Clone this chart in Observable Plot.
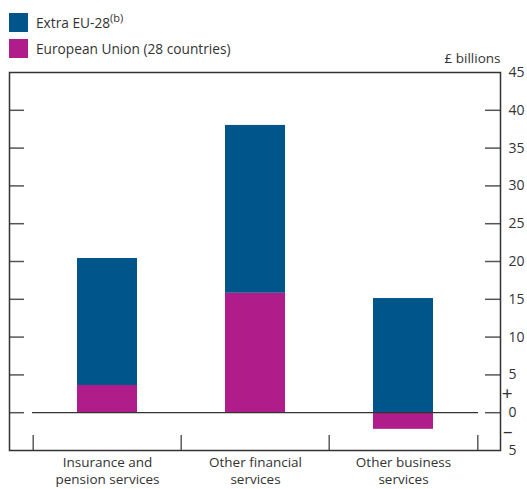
<!DOCTYPE html>
<html>
<head>
<meta charset="utf-8">
<script src="https://cdn.jsdelivr.net/npm/d3@7"></script>
<script src="https://cdn.jsdelivr.net/npm/@observablehq/plot@0.6"></script>
<style>
  html, body { margin: 0; padding: 0; background: #fff; }
  #wrap { position: relative; width: 527px; height: 489px; font-family: "Open Sans", sans-serif; color: #333; }
  #legend { position: absolute; left: 9px; top: 13px; font-size: 13.7px; }
  .item { display: flex; align-items: center; height: 19px; margin-bottom: 7px; }
  .sw { width: 19px; height: 19px; margin-right: 8px; }
  sup { font-size: 11px; vertical-align: 6px; line-height: 0; }
  #chart { position: absolute; left: 0; top: 0; }
</style>
</head>
<body>
<div id="wrap">
  <div id="chart"></div>
  <div id="legend"></div>
</div>
<script>
const categories = ["Insurance and pension services", "Other financial services", "Other business services"];
const categoryLabels = ["Insurance and\npension services", "Other financial\nservices", "Other business\nservices"];
const seriesNames = ["European Union (28 countries)", "Extra EU-28"];
const euValues = [3.6, 15.8, -2.2];
const extraValues = [16.8, 22.2, 15.1];
const colors = ["#B01D8A", "#00558B"];
const tickValues = [-5, 0, 5, 10, 15, 20, 25, 30, 35, 40, 45];
const innerTicks = [0, 5, 10, 15, 20, 25, 30, 35, 40];

const data = [];
categories.forEach((c, i) => {
  data.push({category: c, series: seriesNames[0], value: euValues[i]});
  data.push({category: c, series: seriesNames[1], value: extraValues[i]});
});

const W = 527, H = 489, mL = 9, mR = 27, mT = 72, mB = 39;
const xRange = [32, 478];
const step = (xRange[1] - xRange[0]) / categories.length;
const frameW = W - mL - mR;
const tickLen = 15;
const labelOf = Object.fromEntries(categories.map((c, i) => [c, categoryLabels[i]]));

const plot = Plot.plot({
  width: W, height: H,
  marginLeft: mL, marginRight: mR, marginTop: mT, marginBottom: mB,
  style: {fontFamily: "'Open Sans', sans-serif", fontSize: "13.5px", color: "#333", background: "transparent"},
  x: {type: "band", domain: categories, range: xRange, paddingInner: 0.596, paddingOuter: 0.298, axis: null},
  y: {domain: [-5, 45], axis: null},
  color: {domain: seriesNames, range: colors},
  marks: [
    Plot.barY(data, {x: "category", y: "value", fill: "series", z: "series"}),
    Plot.ruleY([0], {stroke: "#333", strokeWidth: 1.2, insetLeft: xRange[0] - mL, insetRight: (W - mR) - xRange[1]}),
    Plot.ruleY(innerTicks, {y: d => d, stroke: "#555", strokeWidth: 1.5, insetRight: frameW - tickLen}),
    Plot.ruleY(innerTicks, {y: d => d, stroke: "#555", strokeWidth: 1.5, insetLeft: frameW - tickLen}),
    Plot.ruleX(categories, {x: d => d, y1: -5, y2: -5 + tickLen * 50 / (H - mT - mB), dx: -step / 2, stroke: "#333", strokeWidth: 1.2}),
    Plot.ruleX(categories.slice(-1), {x: d => d, y1: -5, y2: -5 + tickLen * 50 / (H - mT - mB), dx: step / 2, stroke: "#333", strokeWidth: 1.2}),
    Plot.frame({stroke: "#333", strokeWidth: 1.5}),
    Plot.axisY({anchor: "right", ticks: tickValues, tickSize: 0, tickPadding: 8, textAnchor: "start",
      tickFormat: d => String(Math.abs(d)), fontSize: 14, fill: "#333", label: null}),
    Plot.text(["+"], {y: [2.5], frameAnchor: "right", dx: 12, text: d => d, fontSize: 19, fill: "#333"}),
    Plot.text(["–"], {y: [-2.5], frameAnchor: "right", dx: 12, text: d => d, fontSize: 19, fill: "#333"}),
    Plot.text(["£ billions"], {y: [45], frameAnchor: "right", dy: -14, textAnchor: "end", text: d => d, fontSize: 13.5, fill: "#333"}),
    Plot.axisX({anchor: "bottom", tickSize: 0, tickPadding: 4, tickFormat: d => labelOf[d], fontSize: 13.5, fill: "#333", lineHeight: 1.28, label: null})
  ]
});
document.getElementById("chart").appendChild(plot);

const legend = document.getElementById("legend");
const legendItems = [
  {name: seriesNames[1], color: colors[1], html: "Extra EU-28<sup>(b)</sup>"},
  {name: seriesNames[0], color: colors[0], html: seriesNames[0]}
];
legendItems.forEach(it => {
  const row = document.createElement("div");
  row.className = "item";
  row.innerHTML = `<div class="sw" style="background:${it.color}"></div><span>${it.html}</span>`;
  legend.appendChild(row);
});
</script>
</body>
</html>
